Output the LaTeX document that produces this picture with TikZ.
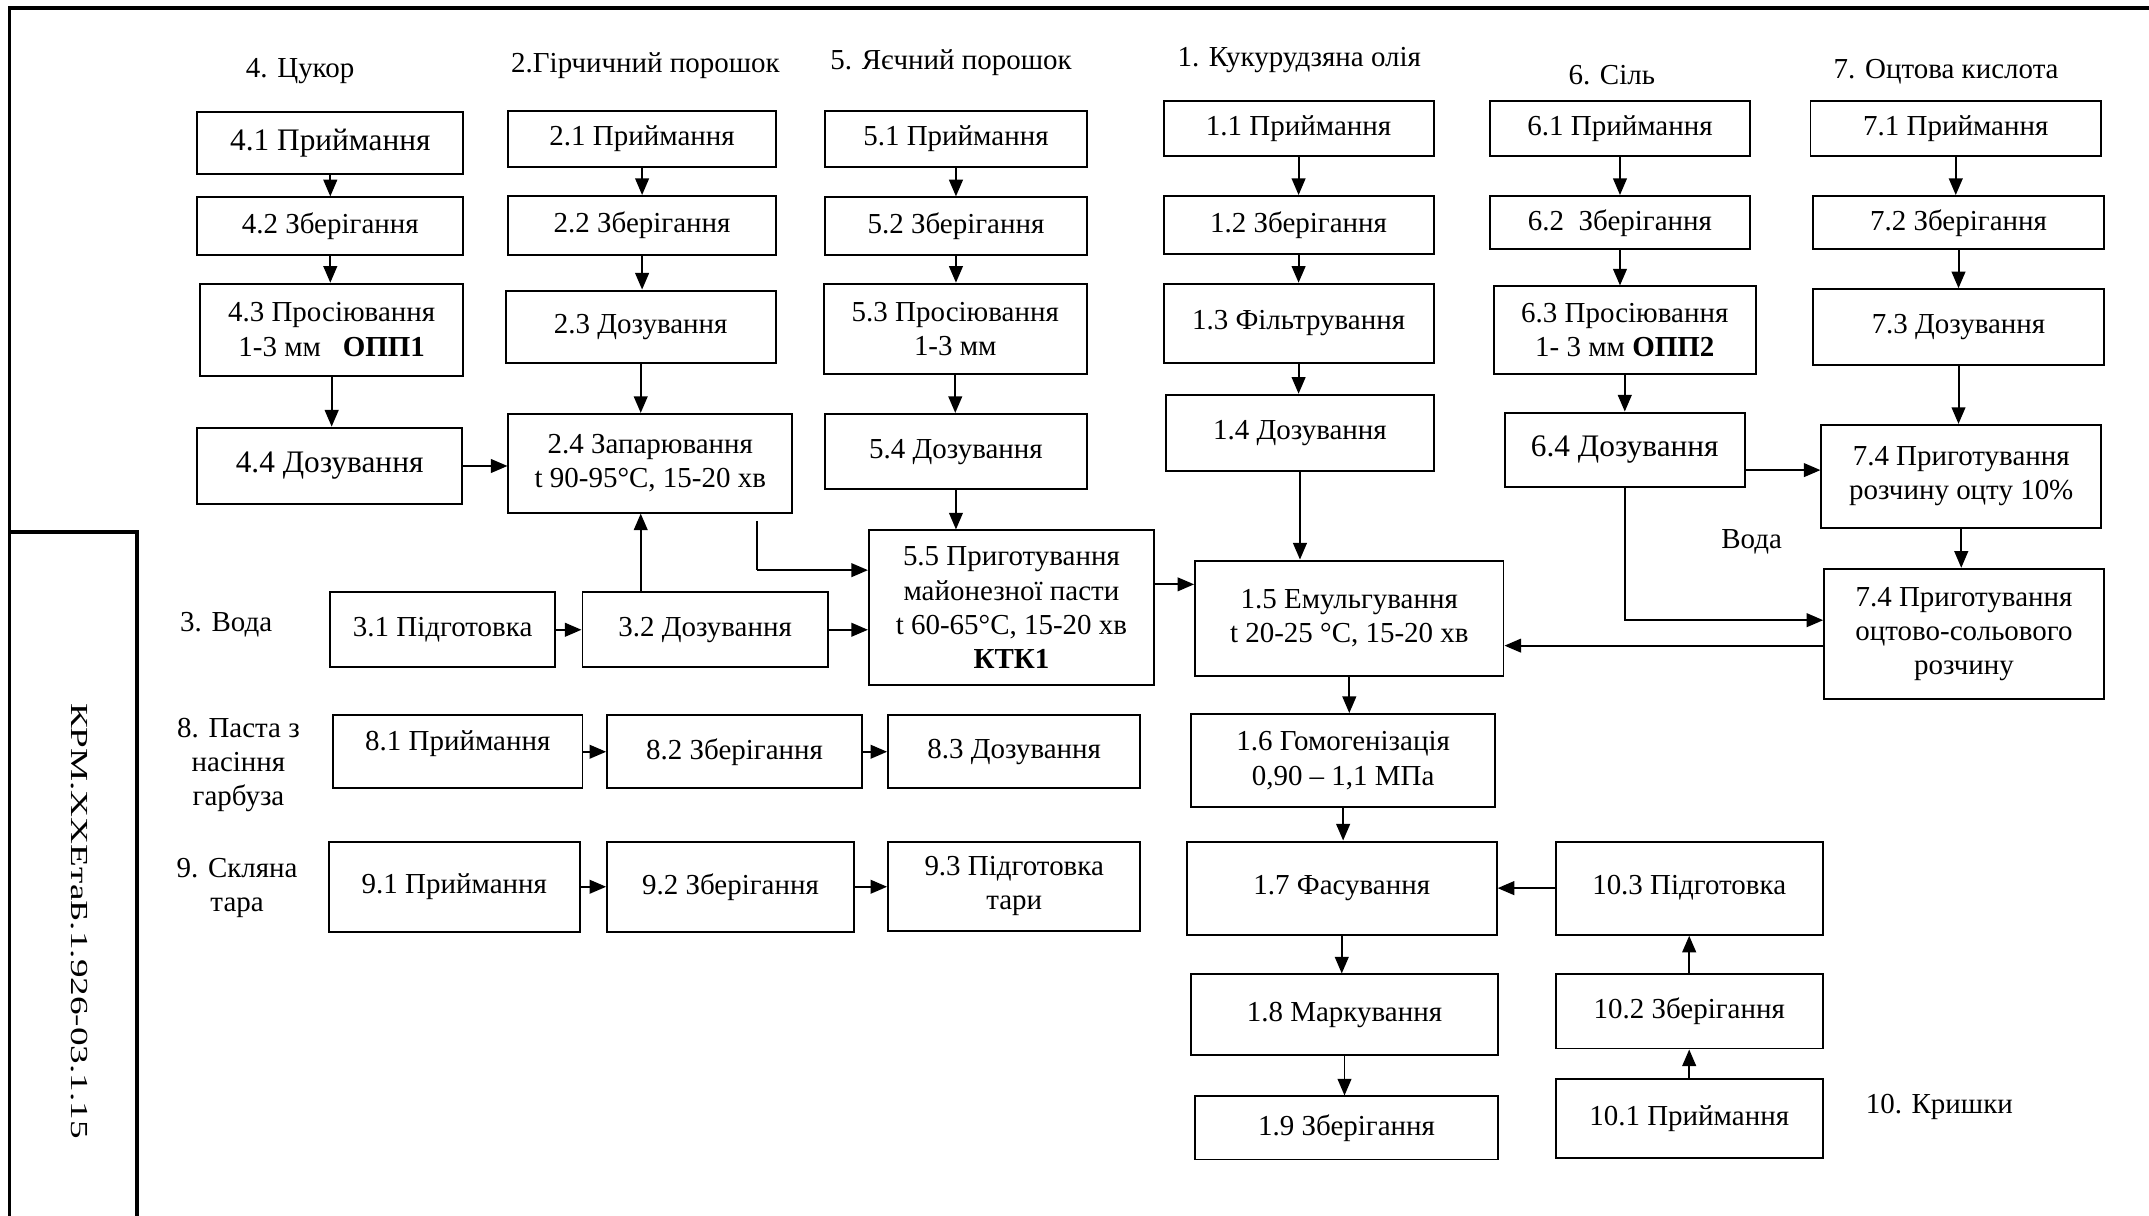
\documentclass[tikz,border=0pt]{standalone}
\usepackage{fontspec}
\setmainfont{Liberation Serif}
\usetikzlibrary{arrows.meta}
\def\myu{0.7pt}
\tikzset{
  box/.style={draw, line width=1pt, inner sep=0pt, align=center, font=\fontsize{14.8}{17.5}\selectfont},
  lbl/.style={inner sep=0pt, align=center, font=\fontsize{14.8}{17.5}\selectfont},
  arr/.style={line width=1pt, -{Triangle[length=8.5pt,width=7pt]}},
  ln/.style={line width=1pt},
  frame/.style={line width=1.8pt}
}
\newcommand\bx[6]{\node[box, minimum width={(#4-#2)*\myu}, minimum height={(#5-#3)*\myu}] (#1) at ({(#2+#4)/2},{(#3+#5)/2}) {#6};}
\begin{document}
\begin{tikzpicture}[x=0.7pt,y=-0.7pt]
\useasboundingbox (0,0) rectangle (1568,887);
% frame
\coordinate (f1) at (7,887);
\coordinate (f2) at (7,6);
\coordinate (f3) at (1568,6);
\coordinate (t1) at (7,388);
\coordinate (t2) at (100,388);
\coordinate (t3) at (100,887);
\draw[frame] (f1) -- (f2) -- (f3);
\draw[frame] (t1) -- (t2) -- (t3);
\node[lbl, rotate=-90, font=\fontsize{12.5}{15}\selectfont] (code) at (58,672) {\scalebox{1.52}[1]{КРМ.ХХЕтаБ.1.926-03.1.15}};

% headers
\node[lbl] (h4) at (219,52) {4. Цукор};
\node[lbl] (h2) at (471,48) {2.Гірчичний порошок};
\node[lbl] (h5) at (694,46) {5. Яєчний порошок};
\node[lbl] (h1) at (948,44) {1. Кукурудзяна олія};
\node[lbl] (h6) at (1176,55) {6. Сіль};
\node[lbl] (h7) at (1420,52) {7. Оцтова кислота};
\node[lbl] (h3) at (165,456) {3. Вода};
\node[lbl] (h8) at (174,558) {8. Паста з\\насіння\\гарбуза};
\node[lbl] (h9) at (173,648) {9. Скляна\\тара};
\node[lbl] (hw) at (1278,395) {Вода};
\node[lbl] (h10) at (1415,808) {10. Кришки};

% column 4
\bx{b41}{144}{82}{338}{127}{\fontsize{16}{18}\selectfont 4.1 Приймання}
\bx{b42}{144}{144}{338}{186}{4.2 Зберігання}
\bx{b43}{146}{207}{338}{274}{4.3 Просіювання\\1-3 мм \ \ \textbf{ОПП1}}
\bx{b44}{144}{312}{337}{368}{\fontsize{16}{18}\selectfont 4.4 Дозування}
% column 2
\bx{b21}{371}{81}{566}{122}{2.1 Приймання}
\bx{b22}{371}{143}{566}{186}{2.2 Зберігання}
\bx{b23}{369}{212}{566}{265}{2.3 Дозування}
\bx{b24}{371}{302}{578}{374}{2.4 Запарювання\\t 90-95°C, 15-20 хв}
% column 5
\bx{b51}{602}{81}{793}{122}{5.1 Приймання}
\bx{b52}{602}{144}{793}{186}{5.2 Зберігання}
\bx{b53}{601}{207}{793}{273}{5.3 Просіювання\\1-3 мм}
\bx{b54}{602}{302}{793}{357}{5.4 Дозування}
\bx{b55}{634}{387}{842}{500}{5.5 Приготування\\майонезної пасти\\t 60-65°C, 15-20 хв\\\textbf{КТК1}}
% column 1
\bx{b11}{849}{74}{1046}{114}{1.1 Приймання}
\bx{b12}{849}{143}{1046}{185}{1.2 Зберігання}
\bx{b13}{849}{207}{1046}{265}{1.3 Фільтрування}
\bx{b14}{851}{288}{1046}{344}{1.4 Дозування}
\bx{b15}{872}{409}{1097}{493}{1.5 Емульгування\\t 20-25 °C, 15-20 хв}
\bx{b16}{869}{521}{1091}{589}{1.6 Гомогенізація\\0,90 – 1,1 МПа}
\bx{b17}{866}{614}{1092}{682}{1.7 Фасування}
\bx{b18}{869}{711}{1093}{770}{1.8 Маркування}
\bx{b19}{872}{800}{1093}{846}{1.9 Зберігання}
% column 6
\bx{b61}{1087}{74}{1277}{114}{6.1 Приймання}
\bx{b62}{1087}{143}{1277}{182}{6.2 \ Зберігання}
\bx{b63}{1090}{209}{1281}{273}{6.3 Просіювання\\1- 3 мм \textbf{ОПП2}}
\bx{b64}{1098}{301}{1273}{355}{\fontsize{16}{18}\selectfont 6.4 Дозування}
% column 7
\bx{b71}{1321}{74}{1533}{114}{7.1 Приймання}
\bx{b72}{1323}{143}{1535}{182}{7.2 Зберігання}
\bx{b73}{1323}{211}{1535}{266}{7.3 Дозування}
\bx{b74a}{1329}{310}{1533}{385}{7.4 Приготування\\розчину оцту 10\%}
\bx{b74b}{1331}{415}{1535}{510}{7.4 Приготування\\оцтово-сольового\\розчину}
% rows 3, 8, 9
\bx{b31}{241}{432}{405}{487}{3.1 Підготовка}
\bx{b32}{425}{432}{604}{487}{3.2 Дозування}
\bx{b81}{243}{522}{425}{575}{\raisebox{4pt}[\height][\depth]{8.1 Приймання}}
\bx{b82}{443}{522}{629}{575}{8.2 Зберігання}
\bx{b83}{648}{522}{832}{575}{8.3 Дозування}
\bx{b91}{240}{614}{423}{680}{9.1 Приймання}
\bx{b92}{443}{614}{623}{680}{9.2 Зберігання}
\bx{b93}{648}{614}{832}{679}{9.3 Підготовка\\тари}
% column 10
\bx{b103}{1135}{614}{1330}{682}{10.3 Підготовка}
\bx{b102}{1135}{711}{1330}{765}{10.2 Зберігання}
\bx{b101}{1135}{787}{1330}{845}{10.1 Приймання}

% arrows column 4
\draw[arr] (b41.south) -- (b41.south |- b42.north);
\draw[arr] (b42.south) -- (b42.south |- b43.north);
\draw[arr] (b43.south) -- (b43.south |- b44.north);
\draw[arr] (b44.east) -- (b44.east -| b24.west);
% column 2
\draw[arr] (b21.south) -- (b21.south |- b22.north);
\draw[arr] (b22.south) -- (b22.south |- b23.north);
\draw[arr] (b23.south) -- (b23.south |- b24.north);
\draw[arr] (b23.south |- b32.north) -- (b23.south |- b24.south);
% 2.4 -> 5.5
\coordinate (c1) at (552,380);
\coordinate (j1) at (552,416);
\draw[ln] (c1) -- (j1);
\draw[arr] (j1) -- (j1 -| b55.west);
% row 3
\draw[arr] (b31.east) -- (b31.east -| b32.west);
\draw[arr] (b32.east) -- (b32.east -| b55.west);
% column 5
\draw[arr] (b51.south) -- (b51.south |- b52.north);
\draw[arr] (b52.south) -- (b52.south |- b53.north);
\draw[arr] (b53.south) -- (b53.south |- b54.north);
\draw[arr] (b54.south) -- (b54.south |- b55.north);
\draw[arr] ([yshift=12pt]b55.east) -- ([yshift=12pt]b55.east -| b15.west);
% column 1
\draw[arr] (b11.south) -- (b11.south |- b12.north);
\draw[arr] (b12.south) -- (b12.south |- b13.north);
\draw[arr] (b13.south) -- (b13.south |- b14.north);
\draw[arr] (b14.south) -- (b14.south |- b15.north);
\draw[arr] (b15.south) -- (b15.south |- b16.north);
\draw[arr] (b16.south) -- (b16.south |- b17.north);
\draw[arr] (b17.south) -- (b17.south |- b18.north);
\draw[arr] (b18.south) -- (b18.south |- b19.north);
% column 6
\draw[arr] (b61.south) -- (b61.south |- b62.north);
\draw[arr] (b62.south) -- (b62.south |- b63.north);
\draw[arr] (b63.south) -- (b63.south |- b64.north);
\draw[arr] ([yshift=-10.5pt]b64.east) -- ([yshift=-10.5pt]b64.east -| b74a.west);
\draw[arr] (b64.south) |- ([yshift=7pt]b74b.west);
% column 7
\draw[arr] (b71.south) -- (b71.south |- b72.north);
\draw[arr] (b72.south) -- (b72.south |- b73.north);
\draw[arr] (b73.south) -- (b73.south |- b74a.north);
\draw[arr] (b74a.south) -- (b74a.south |- b74b.north);
\draw[arr] ([yshift=-6pt]b74b.west) -- ([yshift=-6pt]b74b.west -| b15.east);
% rows 8, 9
\draw[arr] (b81.east) -- (b81.east -| b82.west);
\draw[arr] (b82.east) -- (b82.east -| b83.west);
\draw[arr] (b91.east) -- (b91.east -| b92.west);
\draw[arr] (b92.east) -- (b92.east -| b93.west);
% column 10
\draw[arr] (b101.north) -- (b101.north |- b102.south);
\draw[arr] (b102.north) -- (b102.north |- b103.south);
\draw[arr] (b103.west) -- (b103.west -| b17.east);
\end{tikzpicture}
\end{document}
